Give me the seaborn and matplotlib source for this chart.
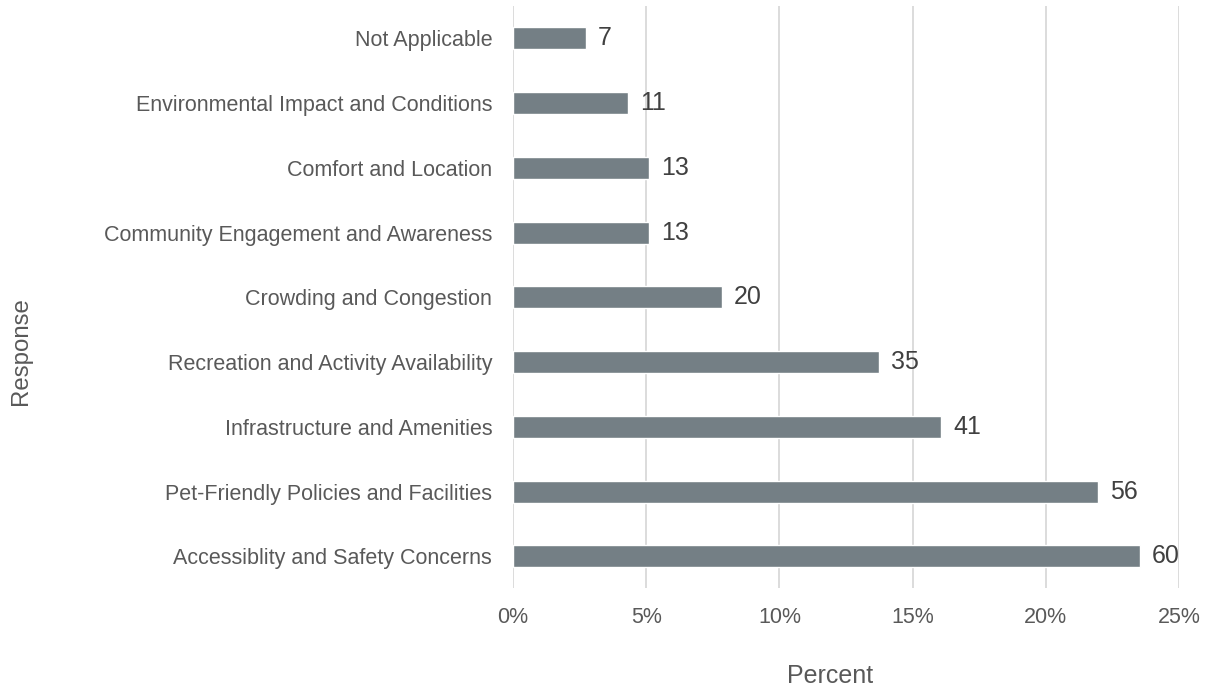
import matplotlib
matplotlib.use("Agg")
import matplotlib.pyplot as plt
import seaborn as sns
import pandas as pd
from matplotlib.ticker import FuncFormatter

categories = [
    "Not Applicable",
    "Environmental Impact and Conditions",
    "Comfort and Location",
    "Community Engagement and Awareness",
    "Crowding and Congestion",
    "Recreation and Activity Availability",
    "Infrastructure and Amenities",
    "Pet-Friendly Policies and Facilities",
    "Accessiblity and Safety Concerns",
]
counts = [7, 11, 13, 13, 20, 35, 41, 56, 60]
percents = [2.75, 4.31, 5.10, 5.10, 7.84, 13.73, 16.08, 21.96, 23.53]
x_ticks = [0, 5, 10, 15, 20, 25]

df = pd.DataFrame({"Response": categories, "Percent": percents, "Count": counts})

sns.set_theme(style="white")
plt.rcParams['font.family'] = ['Liberation Sans', 'DejaVu Sans']

fig = plt.figure(figsize=(12.07, 6.9), dpi=100)
ax = fig.add_axes([513/1207, 1 - 588/690, (1179-513)/1207, (588-6)/690])

bar_color = "#747f85"
text_color = "#595959"

sns.barplot(data=df, y="Response", x="Percent", orient="h", color=bar_color,
            width=0.34, ax=ax, saturation=1, zorder=3)

ax.set_xlim(0, 25)
ax.set_ylim(8.49, -0.5)
ax.set_xticks(x_ticks)
ax.xaxis.set_major_formatter(FuncFormatter(lambda v, p: f"{int(v)}%"))
ax.grid(axis="x", color="#d9d9d9", linewidth=1.3, zorder=0)
ax.grid(axis="y", visible=False)
for s in ax.spines.values():
    s.set_visible(False)
ax.tick_params(axis="both", length=0, labelcolor=text_color)
ax.tick_params(axis="x", pad=14, labelsize=15.5)
ax.tick_params(axis="y", pad=15, labelsize=15.5)

for i, (p, c) in enumerate(zip(percents, counts)):
    ax.text(p + 0.45, i, str(c), va="center", ha="left", fontsize=18, color="#404040")

ax.set_xlabel("")
ax.set_ylabel("")
fig.text(830/1207, 1 - 683/690, "Percent", va="baseline", ha="center",
         fontsize=18, color=text_color)
fig.text(21/1207, 1 - 351/690, "Response", rotation=90, va="center", ha="center",
         fontsize=17.3, color=text_color)

fig.savefig("out.png", dpi=100)
